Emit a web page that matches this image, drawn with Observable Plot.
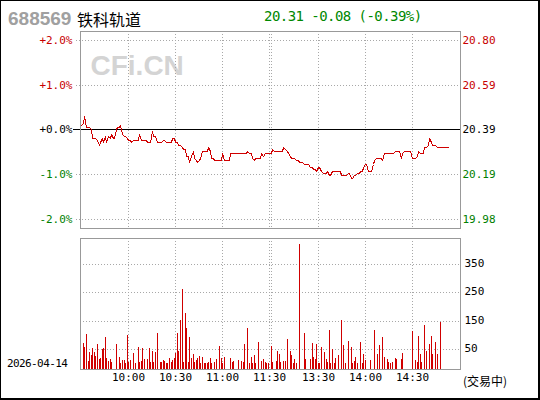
<!DOCTYPE html>
<html><head><meta charset="utf-8">
<script src="https://cdn.jsdelivr.net/npm/d3@7"></script>
<script src="https://cdn.jsdelivr.net/npm/@observablehq/plot@0.6"></script>
<style>
body{margin:0;background:#fff;}
#wrap{position:relative;width:540px;height:400px;background:#fff;overflow:hidden;}
#border{position:absolute;left:0;top:0;width:540px;height:400px;box-sizing:border-box;border-style:solid;border-color:#000;border-width:1px 2px 2px 1px;pointer-events:none;}
.t{position:absolute;white-space:nowrap;line-height:1;}
.mono{font-family:"DejaVu Sans Mono",monospace;letter-spacing:-0.6px;}
#upper,#lower{position:absolute;left:0;}
#upper{top:0px}
#lower{top:230px}
g[aria-label="mono"] text{letter-spacing:-0.6px;}
</style></head>
<body>
<div id="wrap">
  <div id="upper"></div>
  <div id="lower"></div>
  <div class="t" id="code" style="left:8px;top:8px;font:bold 19px 'Liberation Sans',Arial,sans-serif;color:#a0a0a0"></div>
  <div class="t" id="name" style="left:77px;top:7px;font:16px 'Noto Sans CJK SC',sans-serif;color:#000"></div>
  <div class="t mono" id="quote" style="left:264px;top:9px;font-size:14px;letter-spacing:-0.55px;color:#008800"></div>
  <div class="t mono" id="date" style="left:7px;top:358px;font-size:11px;color:#000"></div>
  <div class="t" id="status" style="left:463px;top:372px;font:12px 'Noto Sans CJK SC',sans-serif;color:#000"></div>
  <div id="border"></div>
</div>
<script>
// ---- header / labels ----
const stockCode = "688569";
const stockName = "铁科轨道";
const quoteText = "20.31 -0.08 (-0.39%)";
const dateText = "2026-04-14";
const statusText = "(交易中)";
const prevClose = 20.39;

// ---- axis ticks ----
const pctTicks = [2, 1, 0, -1, -2];
const pctLabels = ["+2.0%", "+1.0%", "+0.0%", "-1.0%", "-2.0%"];
const priceLabels = ["20.80", "20.59", "20.39", "20.19", "19.98"];
const tickColors = ["#c80000", "#c80000", "#000000", "#008000", "#008000"];
const volTicks = [50, 150, 250, 350];
// minute index: 9:30 = 0 ... 11:30 = 120, 13:00 = 121 ... 15:00 = 241
const gridIdx = [30, 60, 90, 120, 121, 151, 181, 211];
const timeTickIdx = [30, 60, 90, 120, 151, 181, 211];
const timeLabels = ["10:00", "10:30", "11:00", "11:30", "13:30", "14:00", "14:30"];

// ---- price per minute, morning (9:30-11:30) ----
const morningPrice = [
 20.41,20.42,20.45,20.40,20.40,20.40,20.39,20.35,20.35,20.35,
 20.34,20.32,20.33,20.35,20.33,20.36,20.33,20.36,20.35,20.37,
 20.35,20.35,20.39,20.40,20.40,20.41,20.37,20.36,20.36,20.35,
 20.34,20.34,20.33,20.34,20.34,20.34,20.34,20.37,20.34,20.34,
 20.34,20.34,20.33,20.33,20.33,20.38,20.36,20.36,20.33,20.33,
 20.33,20.33,20.34,20.34,20.33,20.33,20.33,20.33,20.35,20.35,
 20.33,20.33,20.32,20.32,20.31,20.30,20.30,20.27,20.27,20.24,
 20.27,20.29,20.26,20.25,20.24,20.25,20.26,20.29,20.29,20.29,
 20.29,20.31,20.29,20.26,20.26,20.25,20.25,20.25,20.25,20.25,
 20.28,20.25,20.25,20.25,20.25,20.28,20.28,20.28,20.28,20.28,
 20.28,20.28,20.28,20.28,20.28,20.28,20.29,20.28,20.28,20.26,
 20.25,20.26,20.26,20.26,20.26,20.28,20.27,20.28,20.28,20.28,
 20.28];
// ---- price per minute, afternoon (13:00-) ----
const afternoonPrice = [
 20.28,20.30,20.29,20.29,20.29,20.29,20.29,20.29,20.31,20.30,
 20.29,20.28,20.27,20.26,20.26,20.26,20.25,20.25,20.24,20.24,
 20.24,20.23,20.23,20.23,20.23,20.22,20.22,20.21,20.21,20.20,
 20.22,20.22,20.20,20.19,20.19,20.19,20.20,20.18,20.18,20.20,
 20.20,20.20,20.20,20.20,20.20,20.18,20.18,20.18,20.18,20.19,
 20.19,20.17,20.17,20.18,20.18,20.19,20.19,20.20,20.20,20.22,
 20.23,20.23,20.20,20.20,20.20,20.23,20.25,20.26,20.26,20.26,
 20.26,20.25,20.28,20.28,20.28,20.28,20.28,20.28,20.28,20.29,
 20.29,20.29,20.29,20.26,20.28,20.29,20.29,20.29,20.29,20.29,
 20.26,20.26,20.26,20.27,20.29,20.28,20.28,20.28,20.31,20.31,
 20.32,20.35,20.33,20.32,20.32,20.32,20.31,20.31,20.31,20.31,
 20.31,20.31,20.31,20.31];

// ---- volume per minute index (0 = no bar) ----
const volume = [
 0,71,55,103,8,39,29,54,39,25,
 68,15,18,50,54,92,18,8,15,4,
 0,0,68,0,22,1,11,11,1,99,
 4,11,0,36,1,0,57,4,8,54,
 15,0,15,54,4,43,4,39,106,0,
 4,4,11,8,1,1,18,4,11,18,
 36,106,43,152,262,4,177,124,4,92,
 18,32,4,11,18,25,1,22,1,1,
 1,4,18,1,0,4,15,0,61,18,
 1,22,0,0,0,18,4,8,0,0,
 11,0,8,4,68,0,124,1,22,1,
 29,1,0,75,0,8,15,4,1,1,
 0,61,4,0,8,43,32,4,0,8,
 8,85,0,43,29,1,15,1,0,421,
 0,0,106,15,0,0,15,71,22,15,
 68,1,1,57,0,39,15,4,117,1,
 50,1,18,0,29,0,152,64,1,0,
 78,0,57,1,8,22,1,0,75,1,
 32,11,0,0,11,0,0,117,0,32,
 64,0,92,22,0,15,4,1,4,0,
 18,15,0,0,15,36,0,0,0,0,
 0,114,0,11,4,96,32,4,0,135,
 43,0,68,96,32,0,75,32,0,145];

// ---- build ----
document.getElementById("code").textContent = stockCode;
document.getElementById("name").textContent = stockName;
document.getElementById("quote").textContent = quoteText;
document.getElementById("date").textContent = dateText;
document.getElementById("status").textContent = statusText;

const price = morningPrice.concat(afternoonPrice);
const priceData = price.map((p, i) => ({i, pct: (p / prevClose - 1) * 100}));
const volData = volume.map((v, i) => ({i, v})).filter(d => d.v > 0);

const RED = "#d00000";
const GRID = "#a8a8a8";
const FRAME = "#999999";
const MONO = "DejaVu Sans Mono, monospace";
const xScale = {domain: [0, 241], range: [81.3, 458.9], round: true, axis: null};

const upper = Plot.plot({
  width: 540, height: 230,
  marginLeft: 80, marginRight: 80, marginTop: 31, marginBottom: 2,
  x: xScale,
  y: {domain: [-2.2, 2.2], range: [227.7, 30.8], round: true, axis: null},
  color: {type: "identity"},
  style: {background: "transparent", overflow: "visible"},
  marks: [
    Plot.text(["CFi.CN"], {frameAnchor: "top-left", dx: 10, dy: 24, lineAnchor: "top", textAnchor: "start",
      fontFamily: "Liberation Sans, Arial, sans-serif", fontWeight: "bold", fontSize: 28, fill: "#d4d4d4"}),
    Plot.ruleY(pctTicks.filter(d => d !== 0), {stroke: GRID, strokeDasharray: "1,2", insetLeft: -4}),
    Plot.ruleX(gridIdx, {stroke: GRID, strokeDasharray: "1,2"}),
    Plot.ruleY([0], {stroke: "#000", insetLeft: -7, insetRight: -1}),
    Plot.frame({stroke: FRAME}),
    Plot.line(priceData, {x: "i", y: "pct", stroke: RED, strokeWidth: 1, shapeRendering: "crispEdges"}),
    Plot.text(pctTicks, {y: d => d, text: (d, i) => pctLabels[i], fill: (d, i) => tickColors[i],
      frameAnchor: "left", dx: -8, textAnchor: "end", fontFamily: MONO, fontSize: 11, ariaLabel: "mono"}),
    Plot.text(pctTicks, {y: d => d, text: (d, i) => priceLabels[i], fill: (d, i) => tickColors[i],
      frameAnchor: "right", dx: 2, textAnchor: "start", fontFamily: MONO, fontSize: 11, ariaLabel: "mono"})
  ]
});
document.getElementById("upper").appendChild(upper);

const lower = Plot.plot({
  width: 540, height: 170,
  marginLeft: 80, marginRight: 80, marginTop: 8, marginBottom: 31,
  x: xScale,
  y: {domain: [-21.5, 442], range: [139, 8], round: true, axis: null},
  style: {background: "transparent", overflow: "visible"},
  marks: [
    Plot.ruleY(volTicks, {stroke: GRID, strokeDasharray: "1,2"}),
    Plot.ruleX(gridIdx, {stroke: GRID, strokeDasharray: "1,2"}),
    Plot.ruleX(volData, {x: "i", y1: -21.5, y2: "v", stroke: RED, strokeWidth: 1, shapeRendering: "crispEdges"}),
    Plot.frame({stroke: FRAME}),
    Plot.text(volTicks, {y: d => d, text: d => String(d), frameAnchor: "right", dx: 4, dy: -1, textAnchor: "start",
      fill: "#000", fontFamily: MONO, fontSize: 11, ariaLabel: "mono"}),
    Plot.text(timeTickIdx, {x: d => d, text: (d, i) => timeLabels[i], frameAnchor: "bottom", dy: 8, lineAnchor: "middle",
      fill: "#000", fontFamily: MONO, fontSize: 11, ariaLabel: "mono"})
  ]
});
document.getElementById("lower").appendChild(lower);
</script>
</body></html>
